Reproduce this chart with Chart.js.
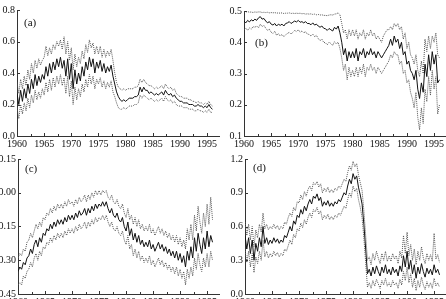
<!DOCTYPE html>
<html>
<head>
<meta charset="utf-8">
<script src="https://cdn.jsdelivr.net/npm/chart.js@4/dist/chart.umd.min.js"></script>
<style>
html,body{margin:0;padding:0;background:#fff;}
body{width:446px;height:299px;position:relative;overflow:hidden;}
canvas{position:absolute;}
</style>
</head>
<body>
<canvas id="pa" width="223" height="150" style="left:0;top:0"></canvas>
<canvas id="pb" width="223" height="150" style="left:223px;top:0"></canvas>
<canvas id="pc" width="223" height="149" style="left:0;top:150px"></canvas>
<canvas id="pd" width="223" height="149" style="left:223px;top:150px"></canvas>
<script>
// three readings per year, 1960.0 to 1996.0
const startYear = 1960;
const perYear = 3;
const xTicks = [1960, 1965, 1970, 1975, 1980, 1985, 1990, 1995];

const aTicks = [0, 0.2, 0.4, 0.6, 0.8];
const aMid = [
0.27,0.20,0.29, 0.22,0.30,0.24, 0.33,0.27,0.36, 0.30,0.39,0.32,
0.38,0.34,0.39, 0.36,0.44,0.38, 0.46,0.40,0.47, 0.42,0.49,0.44,
0.50,0.43,0.48, 0.38,0.49,0.36, 0.46,0.30,0.42, 0.33,0.40,0.35,
0.44,0.38,0.47, 0.42,0.50,0.44, 0.49,0.40,0.47, 0.43,0.48,0.41,
0.46,0.40,0.44, 0.41,0.45,0.38, 0.33,0.28,0.25, 0.23,0.22,0.23,
0.22,0.23,0.24, 0.24,0.24,0.25, 0.25,0.26,0.31, 0.28,0.31,0.29,
0.29,0.27,0.28, 0.27,0.26,0.27, 0.26,0.27,0.28, 0.26,0.29,0.27,
0.26,0.27,0.25, 0.26,0.24,0.23, 0.22,0.22,0.21, 0.21,0.21,0.20,
0.20,0.20,0.19, 0.19,0.20,0.19, 0.19,0.18,0.19, 0.18,0.20,0.18,
0.17];
const aUp = [
0.34,0.27,0.36, 0.30,0.38,0.32, 0.42,0.36,0.46, 0.40,0.48,0.43,
0.49,0.45,0.48, 0.50,0.57,0.51, 0.56,0.52,0.58, 0.55,0.60,0.57,
0.61,0.55,0.63, 0.52,0.60,0.48, 0.56,0.42,0.52, 0.44,0.50,0.46,
0.54,0.49,0.58, 0.53,0.61,0.56, 0.59,0.52,0.57, 0.52,0.57,0.50,
0.55,0.50,0.54, 0.51,0.55,0.48, 0.40,0.34,0.31, 0.30,0.29,0.30,
0.29,0.30,0.30, 0.30,0.30,0.31, 0.31,0.32,0.36, 0.34,0.36,0.34,
0.33,0.32,0.32, 0.31,0.30,0.31, 0.30,0.31,0.32, 0.30,0.33,0.31,
0.30,0.31,0.29, 0.30,0.27,0.26, 0.25,0.25,0.24, 0.24,0.24,0.23,
0.23,0.22,0.22, 0.21,0.22,0.21, 0.21,0.20,0.21, 0.20,0.22,0.20,
0.19];
const aLow = [
0.18,0.11,0.20, 0.14,0.21,0.16, 0.24,0.18,0.26, 0.21,0.29,0.23,
0.28,0.24,0.30, 0.26,0.34,0.28, 0.36,0.29,0.37, 0.31,0.38,0.33,
0.39,0.32,0.37, 0.27,0.38,0.25, 0.35,0.20,0.31, 0.23,0.30,0.25,
0.33,0.28,0.36, 0.31,0.39,0.33, 0.38,0.30,0.36, 0.33,0.37,0.31,
0.35,0.30,0.34, 0.31,0.35,0.28, 0.25,0.21,0.18, 0.17,0.17,0.18,
0.17,0.18,0.19, 0.19,0.19,0.20, 0.20,0.21,0.26, 0.24,0.26,0.25,
0.24,0.23,0.24, 0.23,0.22,0.23, 0.22,0.23,0.24, 0.22,0.25,0.23,
0.22,0.23,0.21, 0.22,0.20,0.19, 0.19,0.19,0.18, 0.18,0.18,0.17,
0.17,0.17,0.16, 0.16,0.17,0.16, 0.16,0.15,0.16, 0.15,0.17,0.15,
0.15];

const bTicks = [0.1, 0.2, 0.3, 0.4, 0.5];
const bMid = [
0.468,0.462,0.470, 0.465,0.472,0.468, 0.474,0.470,0.478, 0.482,0.474,0.476,
0.468,0.462,0.466, 0.458,0.455,0.460, 0.452,0.458,0.454, 0.458,0.452,0.460,
0.462,0.466,0.460, 0.464,0.468,0.465, 0.470,0.464,0.466, 0.462,0.466,0.460,
0.460,0.456,0.462, 0.455,0.458,0.452, 0.448,0.452,0.445, 0.443,0.438,0.444,
0.440,0.436,0.448, 0.442,0.452,0.430, 0.40,0.36,0.38, 0.34,0.37,0.35,
0.37,0.35,0.38, 0.34,0.37,0.36, 0.38,0.35,0.37, 0.36,0.38,0.36,
0.37,0.35,0.37, 0.36,0.35,0.36, 0.37,0.38,0.39, 0.41,0.39,0.42,
0.40,0.41,0.38, 0.40,0.36,0.37, 0.33,0.34,0.31, 0.30,0.28,0.31,
0.25,0.22,0.27, 0.24,0.33,0.29, 0.36,0.31,0.37, 0.33,0.36,0.27,
0.28];
const bUp = [
0.498,0.497,0.498, 0.496,0.497,0.495, 0.497,0.496,0.497, 0.497,0.495,0.496,
0.495,0.496,0.494, 0.495,0.494,0.495, 0.493,0.494,0.493, 0.494,0.492,0.493,
0.493,0.494,0.492, 0.493,0.492,0.493, 0.492,0.493,0.491, 0.492,0.490,0.491,
0.490,0.491,0.489, 0.490,0.488,0.489, 0.487,0.488,0.486, 0.486,0.485,0.487,
0.488,0.487,0.490, 0.491,0.494,0.488, 0.46,0.43,0.44, 0.41,0.44,0.42,
0.44,0.42,0.44, 0.41,0.43,0.42, 0.44,0.41,0.43, 0.42,0.44,0.42,
0.43,0.41,0.42, 0.41,0.40,0.42, 0.43,0.44,0.44, 0.45,0.44,0.46,
0.45,0.46,0.44, 0.45,0.41,0.43, 0.38,0.40,0.36, 0.35,0.33,0.36,
0.31,0.29,0.34, 0.30,0.41,0.37, 0.42,0.38,0.42, 0.40,0.43,0.36,
0.35];
const bLow = [
0.440,0.445,0.438, 0.446,0.442,0.450, 0.448,0.452,0.446, 0.458,0.450,0.454,
0.445,0.438,0.442, 0.432,0.428,0.435, 0.422,0.428,0.420, 0.425,0.418,0.424,
0.428,0.432,0.426, 0.432,0.438,0.434, 0.440,0.432,0.436, 0.430,0.434,0.426,
0.425,0.420,0.426, 0.418,0.422,0.412, 0.405,0.410,0.400, 0.398,0.392,0.400,
0.396,0.390,0.402, 0.395,0.400,0.380, 0.35,0.31,0.33, 0.28,0.32,0.29,
0.31,0.29,0.32, 0.29,0.32,0.30, 0.33,0.29,0.32, 0.31,0.33,0.31,
0.32,0.30,0.32, 0.31,0.30,0.31, 0.32,0.33,0.34, 0.36,0.35,0.37,
0.36,0.36,0.33, 0.34,0.30,0.31, 0.27,0.28,0.24, 0.22,0.19,0.24,
0.16,0.12,0.19, 0.14,0.25,0.21, 0.29,0.23,0.31, 0.25,0.29,0.17,
0.20];

const cTicks = [-0.45, -0.30, -0.15, 0, 0.15];
const cMid = [
-0.35,-0.33,-0.34, -0.31,-0.32,-0.29, -0.28,-0.25,-0.27, -0.23,-0.21,-0.24,
-0.20,-0.22,-0.18, -0.19,-0.16,-0.17, -0.14,-0.16,-0.13, -0.15,-0.12,-0.14,
-0.12,-0.14,-0.11, -0.13,-0.10,-0.12, -0.10,-0.12,-0.09, -0.11,-0.08,-0.10,
-0.09,-0.07,-0.10, -0.07,-0.09,-0.06, -0.08,-0.05,-0.07, -0.05,-0.06,-0.04,
-0.06,-0.04,-0.07, -0.09,-0.07,-0.10, -0.11,-0.09,-0.12, -0.13,-0.11,-0.15,
-0.17,-0.13,-0.19, -0.16,-0.21,-0.18, -0.22,-0.19,-0.23, -0.21,-0.24,-0.22,
-0.24,-0.21,-0.25, -0.23,-0.26,-0.24, -0.22,-0.25,-0.23, -0.26,-0.24,-0.27,
-0.25,-0.28,-0.26, -0.29,-0.26,-0.30, -0.27,-0.31,-0.28, -0.33,-0.26,-0.30,
-0.24,-0.29,-0.20, -0.26,-0.18,-0.23, -0.27,-0.20,-0.25, -0.17,-0.24,-0.19,
-0.22];
const cUp = [
-0.29,-0.27,-0.28, -0.25,-0.26,-0.22, -0.21,-0.18,-0.20, -0.17,-0.14,-0.16,
-0.13,-0.15,-0.11, -0.12,-0.09,-0.10, -0.07,-0.09,-0.06, -0.08,-0.05,-0.07,
-0.05,-0.07,-0.04, -0.06,-0.03,-0.05, -0.04,-0.06,-0.03, -0.05,-0.02,-0.04,
-0.03,-0.01,-0.04, -0.01,-0.03,0.00, -0.02,0.01,-0.01, 0.01,-0.01,0.01,
0.00,0.01,-0.02, -0.03,-0.01,-0.04, -0.05,-0.03,-0.06, -0.07,-0.05,-0.09,
-0.11,-0.07,-0.12, -0.10,-0.14,-0.11, -0.15,-0.12,-0.16, -0.14,-0.17,-0.15,
-0.17,-0.14,-0.18, -0.16,-0.19,-0.17, -0.15,-0.18,-0.16, -0.19,-0.17,-0.20,
-0.18,-0.21,-0.19, -0.22,-0.19,-0.23, -0.20,-0.24,-0.21, -0.25,-0.16,-0.21,
-0.14,-0.21,-0.10, -0.17,-0.06,-0.13, -0.18,-0.09,-0.15, -0.05,-0.14,-0.02,
-0.12];
const cLow = [
-0.41,-0.40,-0.41, -0.37,-0.38,-0.35, -0.34,-0.31,-0.33, -0.29,-0.27,-0.30,
-0.26,-0.28,-0.24, -0.25,-0.22,-0.23, -0.20,-0.22,-0.19, -0.21,-0.18,-0.20,
-0.18,-0.20,-0.17, -0.19,-0.16,-0.18, -0.16,-0.18,-0.15, -0.17,-0.14,-0.16,
-0.15,-0.13,-0.16, -0.13,-0.15,-0.12, -0.14,-0.11,-0.13, -0.11,-0.12,-0.10,
-0.12,-0.10,-0.13, -0.15,-0.13,-0.16, -0.17,-0.15,-0.18, -0.19,-0.17,-0.21,
-0.23,-0.19,-0.25, -0.23,-0.28,-0.25, -0.29,-0.26,-0.30, -0.28,-0.31,-0.29,
-0.31,-0.28,-0.32, -0.30,-0.33,-0.31, -0.29,-0.32,-0.30, -0.33,-0.31,-0.34,
-0.32,-0.35,-0.33, -0.36,-0.33,-0.37, -0.34,-0.38,-0.35, -0.41,-0.34,-0.38,
-0.33,-0.37,-0.29, -0.34,-0.27,-0.32, -0.35,-0.29,-0.33, -0.27,-0.33,-0.26,
-0.30];

const dTicks = [0, 0.3, 0.6, 0.9, 1.2];
const dMid = [
0.52,0.40,0.50, 0.36,0.48,0.30, 0.45,0.38,0.50, 0.42,0.60,0.45,
0.50,0.44,0.48, 0.45,0.50,0.46, 0.49,0.45,0.48, 0.46,0.52,0.50,
0.55,0.60,0.56, 0.65,0.62,0.70, 0.68,0.75,0.71, 0.78,0.74,0.80,
0.84,0.80,0.87, 0.85,0.89,0.83, 0.86,0.78,0.82, 0.79,0.83,0.78,
0.81,0.78,0.82, 0.80,0.84,0.82, 0.86,0.90,0.88, 0.96,1.02,0.98,
1.07,1.02,1.05, 0.95,0.88,0.80, 0.62,0.40,0.18, 0.22,0.16,0.24,
0.18,0.25,0.20, 0.16,0.24,0.19, 0.26,0.18,0.22, 0.17,0.24,0.19,
0.22,0.16,0.25, 0.20,0.34,0.24, 0.38,0.22,0.30, 0.18,0.26,0.14,
0.24,0.18,0.27, 0.20,0.15,0.23, 0.18,0.22,0.17, 0.26,0.19,0.22,
0.17];
const dUp = [
0.64,0.52,0.62, 0.48,0.60,0.42, 0.57,0.50,0.62, 0.55,0.72,0.58,
0.62,0.57,0.60, 0.58,0.62,0.58, 0.61,0.57,0.60, 0.58,0.64,0.62,
0.68,0.72,0.69, 0.77,0.74,0.82, 0.81,0.88,0.84, 0.91,0.87,0.93,
0.96,0.92,0.99, 0.97,1.00,0.95, 0.98,0.90,0.94, 0.91,0.95,0.90,
0.93,0.90,0.94, 0.92,0.96,0.94, 0.98,1.02,1.00, 1.08,1.14,1.10,
1.18,1.13,1.16, 1.06,0.99,0.92, 0.74,0.52,0.30, 0.33,0.26,0.36,
0.30,0.38,0.32, 0.27,0.36,0.30, 0.38,0.29,0.34, 0.29,0.36,0.31,
0.34,0.27,0.38, 0.32,0.52,0.36, 0.55,0.34,0.44, 0.30,0.40,0.26,
0.38,0.30,0.42, 0.32,0.27,0.36, 0.30,0.35,0.29, 0.54,0.31,0.35,
0.28];
const dLow = [
0.40,0.28,0.38, 0.24,0.36,0.19, 0.33,0.27,0.38, 0.30,0.48,0.33,
0.38,0.32,0.36, 0.33,0.38,0.34, 0.37,0.33,0.36, 0.34,0.40,0.38,
0.43,0.48,0.44, 0.53,0.50,0.58, 0.56,0.63,0.59, 0.66,0.62,0.68,
0.72,0.68,0.75, 0.73,0.77,0.71, 0.74,0.66,0.70, 0.67,0.71,0.66,
0.69,0.66,0.70, 0.68,0.72,0.70, 0.74,0.78,0.76, 0.84,0.90,0.86,
0.96,0.91,0.94, 0.84,0.77,0.68, 0.50,0.28,0.06, 0.10,0.05,0.12,
0.07,0.13,0.09, 0.05,0.12,0.08, 0.14,0.07,0.10, 0.06,0.12,0.08,
0.10,0.05,0.13, 0.08,0.20,0.12, 0.24,0.10,0.18, 0.06,0.14,0.03,
0.12,0.06,0.15, 0.08,0.04,0.11, 0.06,0.10,0.05, 0.14,0.07,0.10,
0.06];

const serif = '"Liberation Serif", "Times New Roman", serif';

function pts(arr) {
  return arr.map((v, i) => ({x: startYear + i / perYear, y: v}));
}

// inward tick marks and the panel letter
const panelDeco = {
  id: 'panelDeco',
  afterDraw(chart, args, opts) {
    const ctx = chart.ctx, xs = chart.scales.x, ys = chart.scales.y, a = chart.chartArea;
    ctx.save();
    ctx.strokeStyle = '#333';
    ctx.lineWidth = 1;
    ctx.beginPath();
    xTicks.forEach(v => {
      [[v, 3], [v + 2.5, 2]].forEach(([t, len]) => {
        if (t > xs.max) return;
        const px = Math.round(xs.getPixelForValue(t)) + 0.5;
        ctx.moveTo(px, a.bottom);
        ctx.lineTo(px, a.bottom - len);
      });
    });
    opts.yTicks.forEach(v => {
      const py = Math.round(ys.getPixelForValue(v)) + 0.5;
      ctx.moveTo(a.left, py);
      ctx.lineTo(a.left + 3, py);
    });
    ctx.stroke();
    ctx.fillStyle = '#111';
    ctx.font = '11px ' + serif;
    ctx.textBaseline = 'alphabetic';
    ctx.fillText(opts.letter, opts.lx, opts.ly);
    ctx.restore();
  }
};

function makePanel(id, low, mid, up, yMin, yMax, yTicks, dec, p) {
  new Chart(document.getElementById(id), {
    type: 'line',
    data: {
      datasets: [
        {data: pts(up), borderColor: '#555', borderWidth: 1, borderDash: [1, 1], pointRadius: 0},
        {data: pts(low), borderColor: '#555', borderWidth: 1, borderDash: [1, 1], pointRadius: 0},
        {data: pts(mid), borderColor: '#111', borderWidth: 1, pointRadius: 0}
      ]
    },
    options: {
      responsive: false,
      animation: false,
      layout: {padding: {top: p.top, right: p.right, left: 0, bottom: 0}},
      plugins: {
        legend: {display: false},
        tooltip: {enabled: false},
        panelDeco: {yTicks: yTicks, letter: p.letter, lx: p.lx, ly: p.ly}
      },
      scales: {
        x: {
          type: 'linear', min: 1960, max: 1997.2,
          afterBuildTicks: s => { s.ticks = xTicks.map(v => ({value: v})); },
          afterFit: s => { s.height = p.xh; s.paddingLeft = 0; s.paddingRight = 0; },
          grid: {display: false, drawTicks: false},
          border: {color: '#333', width: 1},
          ticks: {autoSkip: false, maxRotation: 0, padding: 2, color: '#111',
                  font: {family: serif, size: 10}, callback: v => String(v)}
        },
        y: {
          min: yMin, max: yMax,
          afterBuildTicks: s => { s.ticks = yTicks.map(v => ({value: v})); },
          afterFit: s => { s.width = p.yw; s.paddingTop = 0; s.paddingBottom = 0; },
          grid: {display: false, drawTicks: false},
          border: {color: '#333', width: 1},
          ticks: {padding: 2, color: '#111', font: {family: serif, size: 10},
                  callback: v => Number(v).toFixed(dec)}
        }
      }
    },
    plugins: [panelDeco]
  });
}

makePanel('pa', aLow, aMid, aUp, 0, 0.8, aTicks, 1, {top: 10, right: 4, xh: 14, yw: 17, letter: '(a)', lx: 24, ly: 26});
makePanel('pb', bLow, bMid, bUp, 0.1, 0.5, bTicks, 1, {top: 11, right: 0, xh: 14, yw: 21, letter: '(b)', lx: 32, ly: 46});
makePanel('pc', cLow, cMid, cUp, -0.45, 0.15, cTicks, 2, {top: 9, right: 4, xh: 5, yw: 18, letter: '(c)', lx: 25, ly: 22});
makePanel('pd', dLow, dMid, dUp, 0, 1.2, dTicks, 1, {top: 9, right: 0, xh: 5, yw: 22, letter: '(d)', lx: 30, ly: 21});
</script>
</body>
</html>
